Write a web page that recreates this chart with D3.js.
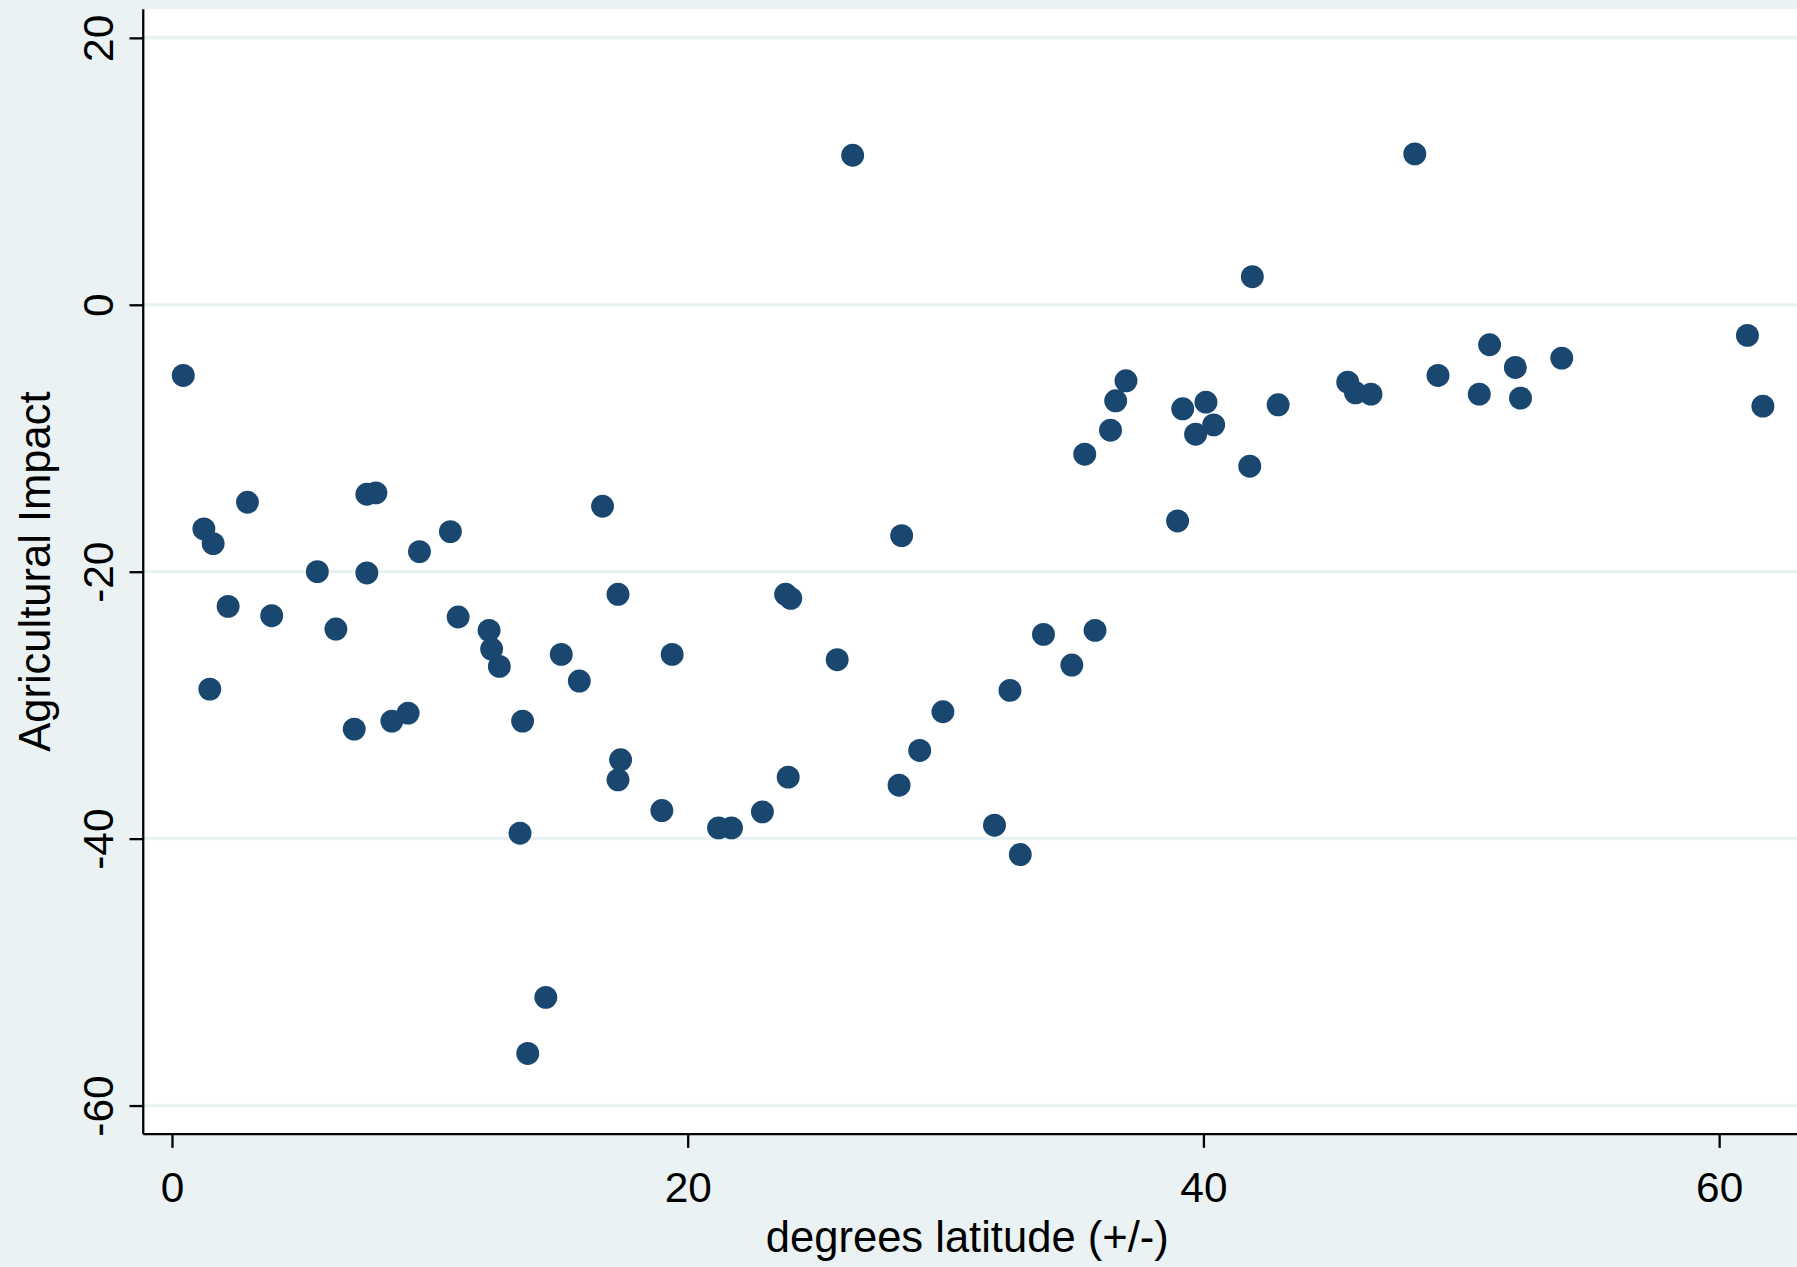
<!DOCTYPE html>
<html><head><meta charset="utf-8">
<script src="https://cdn.jsdelivr.net/npm/d3@7"></script>
<style>html,body{margin:0;padding:0;background:#eaf2f3;overflow:hidden}</style>
</head><body>
<svg id="c"></svg>
<script>
const latitude = [0.44,1.24,1.6,1.47,2.18,2.93,3.87,5.64,6.36,7.07,7.56,7.91,7.56,8.53,9.16,9.6,10.8,11.1,12.3,12.4,12.7,13.6,13.5,13.8,14.5,15.1,15.8,16.7,17.3,17.4,17.3,19.0,19.4,21.2,21.7,22.9,23.8,24.0,23.9,25.8,26.4,28.2,28.3,29.0,29.9,31.9,32.5,32.9,33.8,34.9,35.4,35.8,36.4,36.6,37.0,39.0,39.2,39.7,40.1,40.4,41.8,41.9,42.9,45.6,45.9,46.5,48.2,49.1,50.7,51.1,52.1,52.3,53.9,61.1,61.7];
const impact = [-5.3,-16.8,-17.9,-28.8,-22.6,-14.8,-23.3,-20.0,-24.3,-31.8,-14.2,-14.1,-20.1,-31.2,-30.6,-18.5,-17.0,-23.4,-24.4,-25.8,-27.1,-31.2,-39.6,-56.1,-51.9,-26.2,-28.2,-15.1,-21.7,-34.1,-35.6,-37.9,-26.2,-39.2,-39.2,-38.0,-21.7,-22.0,-35.4,-26.6,11.2,-36.0,-17.3,-33.4,-30.5,-39.0,-28.9,-41.2,-24.7,-27.0,-11.2,-24.4,-9.4,-7.2,-5.7,-16.2,-7.8,-9.7,-7.3,-9.0,-12.1,2.1,-7.5,-5.8,-6.6,-6.7,11.3,-5.3,-6.7,-3.0,-4.7,-7.0,-4.0,-2.3,-7.6];
const xTicks = [0,20,40,60];
const yTicks = [20,0,-20,-40,-60];

const W = 1568, H = 1106;
const svg = d3.select("#c").attr("viewBox", `0 0 ${W} ${H}`)
  .attr("width", window.innerWidth).attr("height", window.innerHeight)
  .attr("preserveAspectRatio", "none");
const pL = 125, pT = 8, pR = 1568, pB = 990;
const x = d3.scaleLinear().domain([0, 60]).range([150, 1500]);
const y = d3.scaleLinear().domain([20, -60]).range([33, 965]);

svg.append("rect").attr("width", W).attr("height", H).attr("fill", "#eaf2f3");
svg.append("rect").attr("x", pL).attr("y", pT).attr("width", pR - pL).attr("height", pB - pT).attr("fill", "#fff");

yTicks.forEach(t => {
  svg.append("line").attr("x1", pL).attr("x2", pR).attr("y1", y(t)).attr("y2", y(t))
    .attr("stroke", "#eaf2f3").attr("stroke-width", 3);
});

const font = "Liberation Sans, Arial, sans-serif";
const yAxis = svg.append("g").attr("transform", `translate(${pL},0)`)
  .call(d3.axisLeft(y).tickValues(yTicks).tickFormat(d => String(d)).tickSize(12).tickSizeOuter(0));
yAxis.select(".domain").attr("d", `M0,${pT}V${pB}`);
yAxis.selectAll("text").attr("font-family", font).attr("font-size", 37).attr("fill", "#000")
  .attr("transform", "rotate(-90)").attr("text-anchor", "middle")
  .attr("x", 0).attr("y", -26).attr("dy", 0);
yAxis.selectAll("line,.domain").attr("stroke", "#000").attr("stroke-width", 2);

const xAxis = svg.append("g").attr("transform", `translate(0,${pB})`)
  .call(d3.axisBottom(x).tickValues(xTicks).tickSize(12).tickSizeOuter(0));
xAxis.select(".domain").attr("d", `M${pL},0H${pR}`);
xAxis.selectAll("text").attr("font-family", font).attr("font-size", 37).attr("fill", "#000").attr("dy", "1.2em");
xAxis.selectAll("line,.domain").attr("stroke", "#000").attr("stroke-width", 2);

svg.append("text").attr("x", 844).attr("y", 1093).attr("text-anchor", "middle")
  .attr("font-family", font).attr("font-size", 38).text("degrees latitude (+/-)");
svg.append("text").attr("transform", "translate(44,499) rotate(-90)").attr("text-anchor", "middle")
  .attr("font-family", font).attr("font-size", 38).text("Agricultural Impact");

svg.append("g").selectAll("circle").data(latitude.map((d, i) => [d, impact[i]])).join("circle")
  .attr("cx", d => x(d[0])).attr("cy", d => y(d[1])).attr("r", 10).attr("fill", "#1a476f");
</script>
</body></html>
